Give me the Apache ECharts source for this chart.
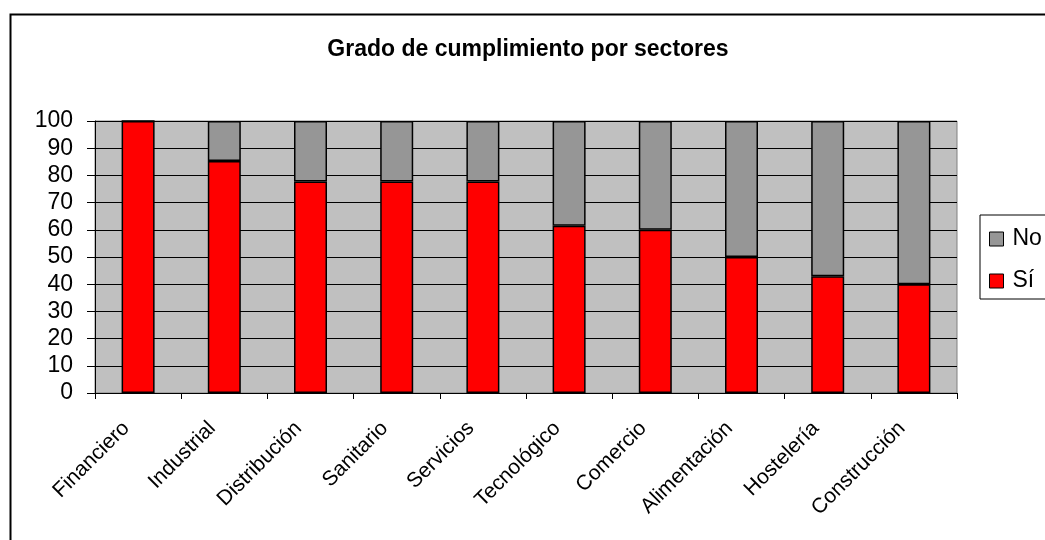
<!DOCTYPE html>
<html>
<head>
<meta charset="utf-8">
<script src="https://cdn.jsdelivr.net/npm/echarts@6/dist/echarts.min.js"></script>
<style>
html,body{margin:0;padding:0;background:#fff;overflow:hidden;}
#chart{width:1045px;height:540px;}
</style>
</head>
<body>
<div id="chart"></div>
<script>
const categories = ['Financiero','Industrial','Distribución','Sanitario','Servicios','Tecnológico','Comercio','Alimentación','Hostelería','Construcción'];
const siValues = [100, 85.3, 77.8, 77.8, 77.8, 61.5, 60, 50, 42.9, 40];
const noValues = [0, 14.7, 22.2, 22.2, 22.2, 38.5, 40, 50, 57.1, 60];
const yTicks = [0,10,20,30,40,50,60,70,80,90,100];

const chart = echarts.init(document.getElementById('chart'));
const font = 'Liberation Sans, Arial, sans-serif';
chart.setOption({
  animation: false,
  backgroundColor: '#fff',
  graphic: [{
    type: 'rect', left: 8, top: 12, silent: true,
    shape: { width: 1100, height: 600 },
    style: { fill: 'none', stroke: '#000', lineWidth: 2 }
  }],
  title: {
    text: 'Grado de cumplimiento por sectores',
    left: 523, top: 33, textAlign: 'center',
    textStyle: { fontFamily: font, fontSize: 23, fontWeight: 'bold', color: '#000' }
  },
  legend: {
    data: ['No', 'Sí'],
    orient: 'vertical',
    left: 980, top: 215,
    icon: 'rect',
    itemWidth: 14, itemHeight: 14, itemGap: 16,
    padding: [11, 30, 5, 9],
    borderColor: '#000', borderWidth: 1, backgroundColor: '#fff',
    itemStyle: { borderColor: '#000', borderWidth: 1 },
    textStyle: { fontFamily: font, fontSize: 23, lineHeight: 26, color: '#000', padding: [0, 0, 0, 4] }
  },
  grid: {
    left: 95, right: 88, top: 121, bottom: 147,
    show: true, backgroundColor: '#C0C0C0', borderColor: '#808080', borderWidth: 1
  },
  xAxis: {
    type: 'category', data: categories,
    axisLine: { lineStyle: { color: '#000', width: 1 } },
    axisTick: { show: true, length: 6, lineStyle: { color: '#000' } },
    axisLabel: { rotate: 45, margin: 20, padding: [0, 17, 0, 0], fontFamily: font, fontSize: 21, color: '#000' }
  },
  yAxis: {
    type: 'value', min: 0, max: 100, interval: 10,
    axisLine: { show: true, lineStyle: { color: '#000', width: 1 } },
    axisTick: { show: true, length: 8, lineStyle: { color: '#000' } },
    axisLabel: { fontFamily: font, fontSize: 23, color: '#000', margin: 22,
      formatter: v => yTicks.includes(v) ? String(v) : '' },
    splitLine: { show: true, lineStyle: { color: '#000', width: 1 } }
  },
  series: [
    {
      name: 'Sí', type: 'bar', stack: 'total', data: siValues,
      barWidth: 33,
      itemStyle: { color: '#FF0000', borderColor: '#000', borderWidth: 1.5 }
    },
    {
      name: 'No', type: 'bar', stack: 'total', data: noValues,
      barWidth: 33,
      itemStyle: { color: '#969696', borderColor: '#000', borderWidth: 1.5 }
    }
  ]
});
</script>
</body>
</html>
